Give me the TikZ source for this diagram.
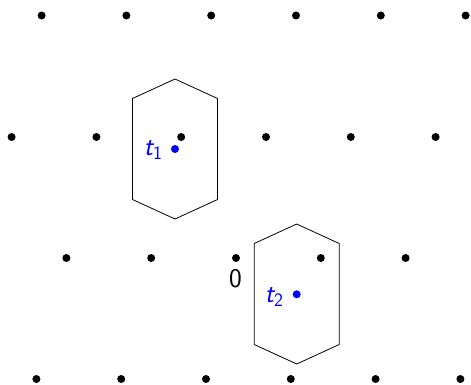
\documentclass[tikz,border=0pt]{standalone}
\newcommand\tlab[2]{{\sffamily\itshape #1}\raisebox{-0.4ex}{\sffamily\fontsize{19}{19}\selectfont #2}}
\begin{document}
\begin{tikzpicture}[x=1pt,y=-1pt,
  lat/.style={fill=black},
  cell/.style={draw=black,line width=0.8pt},
  ctr/.style={fill=blue},
  lbl/.style={inner sep=0pt,font=\sffamily\fontsize{27}{30}\selectfont},
  hex/.pic={\draw[cell] (0,-70) -- (42.5,-50.5) -- (42.5,50.5) -- (0,70) -- (-42.5,50.5) -- (-42.5,-50.5) -- cycle;}]
\useasboundingbox (0,0) rectangle (471,384);
% lattice rows
\foreach \x in {41.6,126.4,211.2,296,380.8,465.6} \fill[lat] (\x,15.5) circle (4);
\foreach \x in {11.6,96.4,181.2,266,350.8,435.6} \fill[lat] (\x,137) circle (4);
\foreach \x in {66.4,151.2,236,320.8,405.6} \fill[lat] (\x,258) circle (4);
\foreach \x in {36.4,121.2,206,290.8,375.6,460.4} \fill[lat] (\x,379) circle (4);
% cells
\pic at (175,149) {hex};
\pic at (296.7,294) {hex};
% centres
\fill[ctr] (175,149) circle (4);
\fill[ctr] (296.7,294.3) circle (4);
\node[lbl,text=blue] (t1) at (153,150) {\tlab{t}{1}};
\node[lbl,text=blue] (t2) at (274,297) {\tlab{t}{2}};
\node[lbl] (zero) at (235.5,278.5) {0};
\end{tikzpicture}
\end{document}
